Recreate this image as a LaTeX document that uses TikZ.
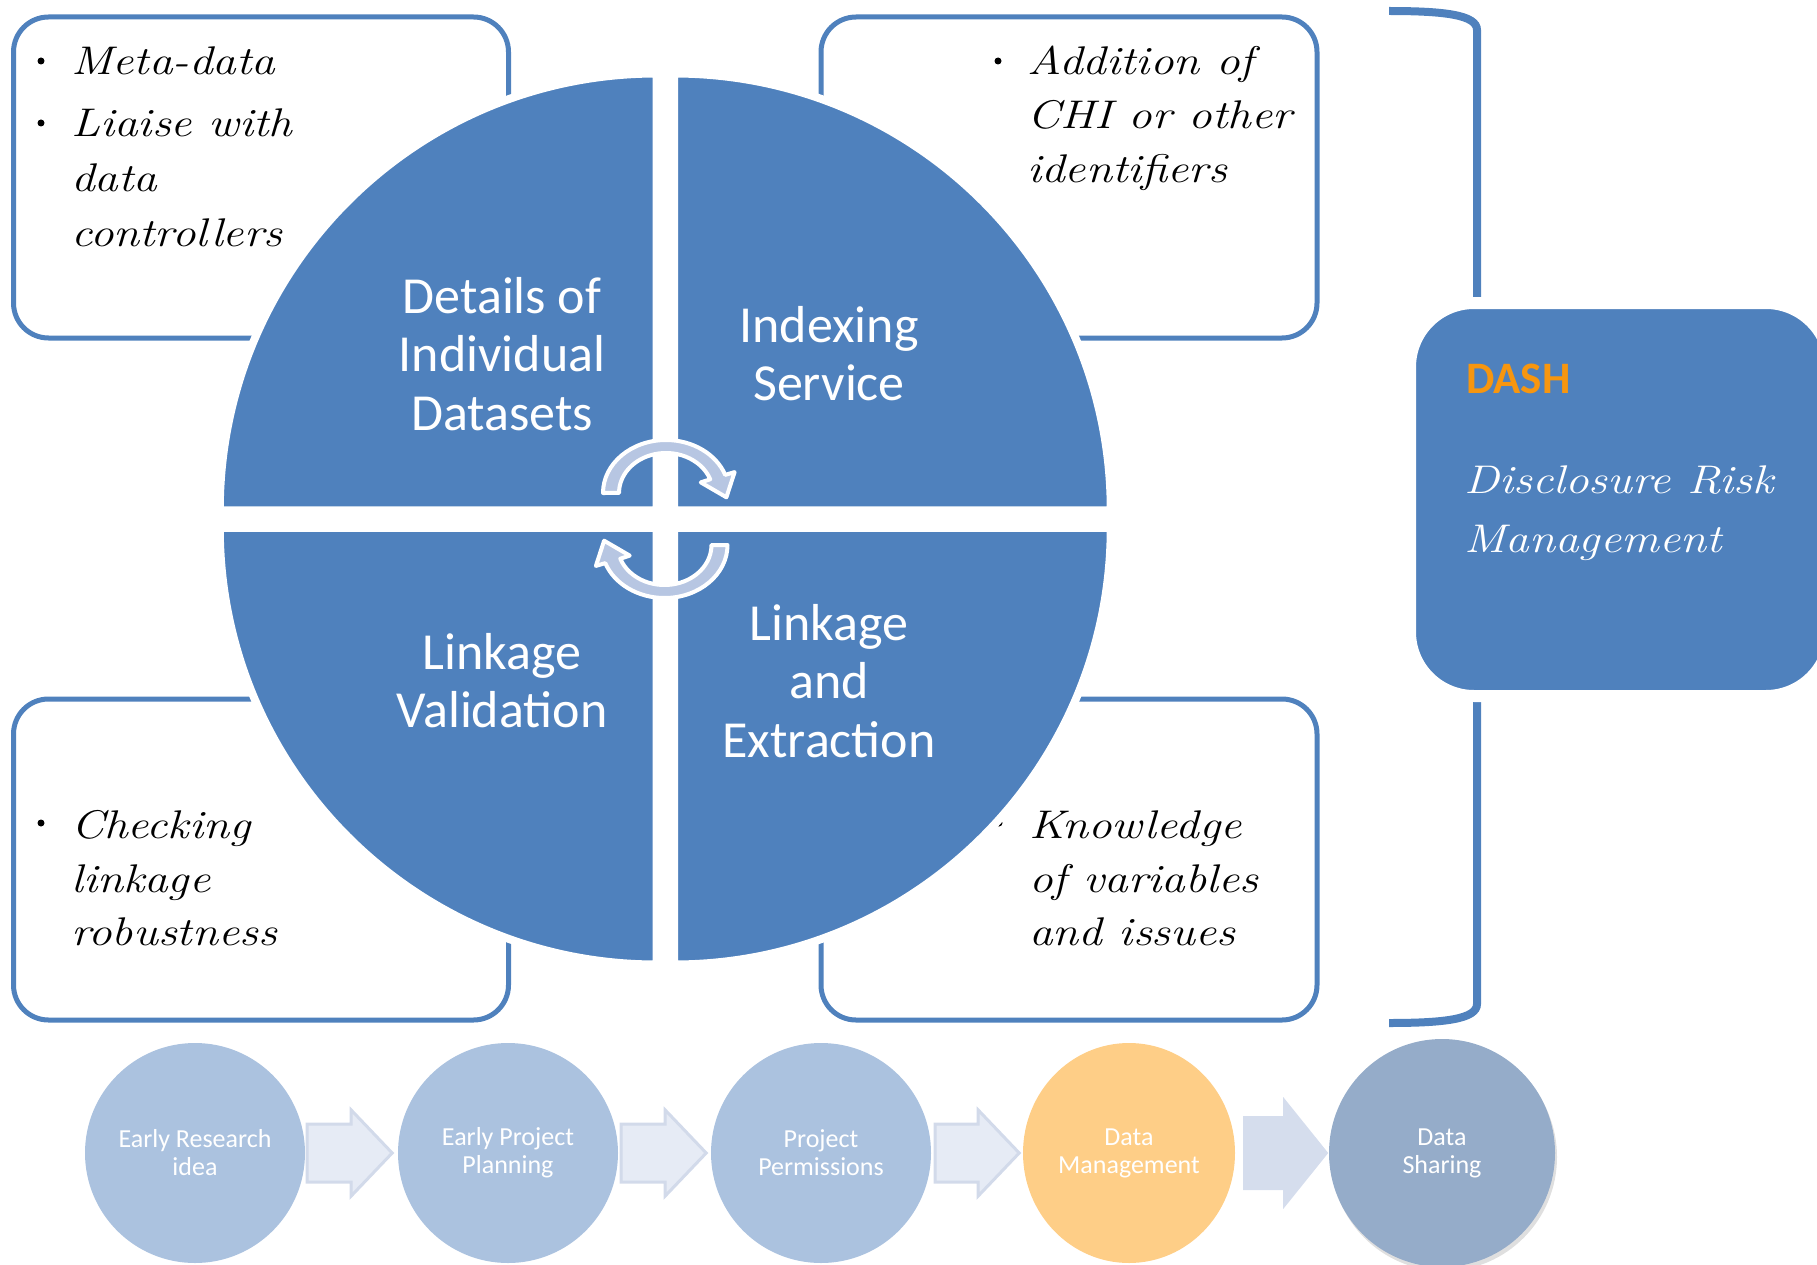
\documentclass[tikz,border=0pt]{standalone}
\usepackage{fontspec}
\usepackage{graphicx}
\newfontfamily\carl{Carlito}
\newcommand\widehand[1]{\scalebox{1.18}[1]{#1}}
\usetikzlibrary{shapes.geometric,shadows}
\definecolor{qblue}{HTML}{4F81BD}
\definecolor{cyc}{HTML}{B7C6E2}
\definecolor{stepblue}{HTML}{ABC2DF}
\definecolor{steporange}{HTML}{FECE87}
\definecolor{stepgrey}{HTML}{95ACC9}
\definecolor{dashorange}{HTML}{F7960F}
\definecolor{arrfill}{HTML}{E6EBF5}
\definecolor{arrdraw}{HTML}{D2DAEA}
\definecolor{arrfillb}{HTML}{D5DDED}
\begin{document}
\begin{tikzpicture}[x=1pt,y=-1pt,
  infobox/.style={draw=qblue, line width=5pt, rounded corners=35pt, fill=white, anchor=north west, inner sep=0pt, outer sep=0pt},
  hw/.style={anchor=base west, inner sep=0pt, font=\itshape\fontsize{40}{48}\selectfont},
  bul/.style={circle, fill=black, inner sep=0pt, minimum size=7pt},
  quad/.style={fill=qblue, draw=white, line width=8pt, line join=miter},
  qlabel/.style={anchor=base, inner sep=0pt, text=white, font=\carl\fontsize{52}{58}\selectfont},
  cyclearrow/.style={fill=cyc, draw=white, line width=4pt, line join=round},
  stepnode/.style={circle, inner sep=0pt, minimum size=220pt, text=white, align=center, font=\carl\fontsize{26}{28}\selectfont},
  blockarrow/.style={fill=arrfill, draw=arrdraw, line width=3pt, line join=miter},
  bracketline/.style={draw=qblue, line width=8pt},
]
\useasboundingbox (0,0) rectangle (1817,1265);

% info boxes
\node[infobox, minimum width=495pt, minimum height=321pt] (tl) at (13.5,17) {};
\node[infobox, minimum width=496pt, minimum height=321pt] (tr) at (821,17) {};
\node[infobox, minimum width=495pt, minimum height=321pt] (bl) at (13.5,699) {};
\node[infobox, minimum width=496pt, minimum height=321pt] (br) at (821,699) {};

% top-left text
\node[bul] (tlb1) at (41,61) {};
\node[hw] (tl1) at (71,75) {\widehand{Meta-data}};
\node[bul] (tlb2) at (41,123) {};
\node[hw] (tl2) at (71,137) {\widehand{Liaise with}};
\node[hw] (tl3) at (71,192) {\widehand{data}};
\node[hw] (tl4) at (71,247) {\widehand{controllers}};

% top-right text
\node[bul] (trb1) at (998,61) {};
\node[hw] (tr1) at (1027,75) {\widehand{Addition of}};
\node[hw] (tr2) at (1027,129) {\widehand{CHI or other}};
\node[hw] (tr3) at (1027,183) {\widehand{identifiers}};

% bottom-left text
\node[bul] (blb1) at (41,823) {};
\node[hw] (bl1) at (71,838) {\widehand{Checking}};
\node[hw] (bl2) at (71,892) {\widehand{linkage}};
\node[hw] (bl3) at (71,945) {\widehand{robustness}};

% bottom-right text
\node[bul] (brb1) at (999,823) {};
\node[hw] (br1) at (1029,838) {\widehand{Knowledge}};
\node[hw] (br2) at (1029,892) {\widehand{of variables}};
\node[hw] (br3) at (1029,945) {\widehand{and issues}};

% bracket and DASH box
\coordinate (bt) at (1389,11);
\coordinate (bb) at (1389,1023);
\draw[bracketline] (bt) .. controls (1445,11) and (1477,15) .. (1477,30) -- (1477,1004) .. controls (1477,1019) and (1445,1023) .. (bb);
\node[fill=qblue, draw=white, line width=12pt, rounded corners=64pt, anchor=north west, minimum width=420pt, minimum height=393pt, inner sep=0pt, outer sep=0pt] (dashbox) at (1410,303) {};
\node[anchor=base west, inner sep=0pt, text=dashorange, font=\carl\bfseries\fontsize{45}{50}\selectfont] (dash) at (1466,393) {DASH};
\node[hw, text=white] (drm1) at (1464,493) {\widehand{Disclosure Risk}};
\node[hw, text=white] (drm2) at (1464,552) {\widehand{Management}};

% circle quadrants
\filldraw[quad] (656.5,510.25) -- ++(-436.75,0) arc[start angle=180, end angle=270, radius=436.75] -- cycle;
\filldraw[quad] (674,510.25) -- ++(0,-436.75) arc[start angle=270, end angle=360, radius=436.75] -- cycle;
\filldraw[quad] (674,527.75) -- ++(436.75,0) arc[start angle=0, end angle=90, radius=436.75] -- cycle;
\filldraw[quad] (656.5,527.75) -- ++(0,436.75) arc[start angle=90, end angle=180, radius=436.75] -- cycle;

% quadrant labels
\node[qlabel] (q1a) at (502,313) {Details of};
\node[qlabel] (q1b) at (502,371) {Individual};
\node[qlabel] (q1c) at (502,430) {Datasets};
\node[qlabel] (q2a) at (829,342) {Indexing};
\node[qlabel] (q2b) at (829,400) {Service};
\node[qlabel] (q3a) at (502,669) {Linkage};
\node[qlabel] (q3b) at (502,727) {Validation};
\node[qlabel] (q4a) at (829,640) {Linkage};
\node[qlabel] (q4b) at (829,698) {and};
\node[qlabel] (q4c) at (829,757) {Extraction};

% cycle arrows
\begin{scope}[shift={(666,493)}]
\filldraw[cyclearrow] (-63,0) arc[start angle=180, end angle=340, x radius=63, y radius=53] -- (68.6,-20.9) -- (60.4,4.3) -- (34.8,-10.6) -- (44.2,-13.7) arc[start angle=340, end angle=180, x radius=47, y radius=40] -- cycle;
\end{scope}
\begin{scope}[shift={(664.5,545)}]
\filldraw[cyclearrow] (63,0) arc[start angle=0, end angle=160, x radius=63, y radius=53] -- (-68.6,20.9) -- (-60.4,-4.3) -- (-34.8,10.6) -- (-44.2,13.7) arc[start angle=160, end angle=0, x radius=47, y radius=40] -- cycle;
\end{scope}

% process steps
\node[stepnode, fill=stepblue] (s1) at (195,1153) {Early Research\\idea};
\node[stepnode, fill=stepblue] (s2) at (508,1153) {Early Project\\Planning};
\node[stepnode, fill=stepblue] (s3) at (821,1153) {Project\\Permissions};
\node[stepnode, ellipse, minimum width=212pt, minimum height=220pt, fill=steporange] (s4) at (1129,1153) {Data\\Management};
\node[stepnode, ellipse, minimum width=226pt, minimum height=228pt, fill=stepgrey, drop shadow={opacity=0.25, shadow xshift=2pt, shadow yshift=-4pt}] (s5) at (1442,1153) {Data\\Sharing};

\filldraw[blockarrow] ([xshift=2pt]s1.east) -- ++(0,-29) -- ++(44,0) -- ++(0,-14) -- ++(41,43) -- ++(-41,43) -- ++(0,-14) -- ++(-44,0) -- cycle;
\filldraw[blockarrow] ([xshift=3pt]s2.east) -- ++(0,-29) -- ++(44,0) -- ++(0,-14) -- ++(41,43) -- ++(-41,43) -- ++(0,-14) -- ++(-44,0) -- cycle;
\filldraw[blockarrow] ([xshift=4pt]s3.east) -- ++(0,-29) -- ++(43,0) -- ++(0,-14) -- ++(41,43) -- ++(-41,43) -- ++(0,-14) -- ++(-43,0) -- cycle;
\fill[arrfillb] ([xshift=8pt]s4.east) -- ++(0,-37) -- ++(40,0) -- ++(0,-19) -- ++(45,56) -- ++(-45,56) -- ++(0,-19) -- ++(-40,0) -- cycle;
\end{tikzpicture}
\end{document}
